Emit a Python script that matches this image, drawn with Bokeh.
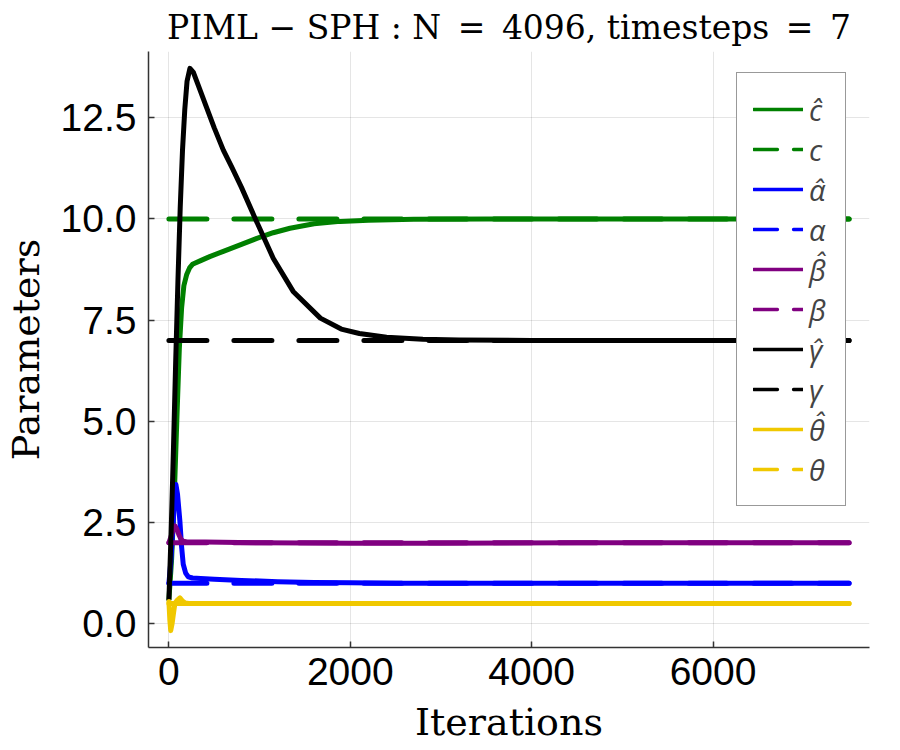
from bokeh.plotting import figure
from bokeh.models import Range1d, FixedTicker, Legend, LegendItem
from bokeh.embed import file_html
from bokeh.resources import INLINE

# ---------------- data ----------------
c_hat_it = [0, 30, 60, 90, 115, 140, 165, 195, 230, 260, 350, 450, 600, 800, 970,
            1150, 1335, 1600, 1890, 2200, 2700, 3500, 5000, 7500]
c_hat_val = [0.6, 1.6, 3.2, 5.2, 6.8, 7.8, 8.35, 8.62, 8.8, 8.88, 8.97, 9.07, 9.2, 9.37, 9.52,
             9.66, 9.77, 9.88, 9.94, 9.97, 9.99, 10.0, 10.0, 10.0]

alpha_hat_it = [0, 20, 40, 60, 77, 95, 121, 140, 158, 185, 213, 260, 350, 500, 800,
                1200, 1600, 2000, 2500, 3500, 7500]
alpha_hat_val = [1.0, 1.5, 2.2, 3.0, 3.44, 3.2, 2.54, 1.9, 1.47, 1.25, 1.16, 1.13, 1.12, 1.1, 1.07,
                 1.04, 1.02, 1.01, 1.0, 1.0, 1.0]

beta_hat_it = [0, 30, 50, 66, 85, 110, 135, 158, 200, 400, 1000, 2000, 3000, 4500, 7500]
beta_hat_val = [2.0, 2.2, 2.36, 2.42, 2.35, 2.2, 2.08, 2.04, 2.02, 2.02, 2.0, 1.99, 1.99, 2.0, 2.0]

gamma_hat_it = [0, 25, 50, 75, 100, 125, 150, 175, 200, 232, 270, 324, 416, 500, 600, 700, 800,
                950, 1150, 1370, 1670, 1900, 2100, 2400, 2800, 3200, 4000, 7500]
gamma_hat_val = [0.6, 2.3, 4.3, 6.5, 8.5, 10.3, 11.7, 12.7, 13.4, 13.72, 13.62, 13.3, 12.75, 12.25,
                 11.7, 11.25, 10.78, 10.02, 9.03, 8.21, 7.55, 7.28, 7.17, 7.08, 7.03, 7.01, 7.0, 7.0]

theta_hat_it = [0, 10, 20, 35, 50, 66, 90, 121, 150, 180, 220, 7500]
theta_hat_val = [0.55, 0.1, -0.17, 0.0, 0.25, 0.5, 0.58, 0.64, 0.56, 0.51, 0.5, 0.5]

true_it = [0, 7500]
c_true = [10.0, 10.0]
alpha_true = [1.0, 1.0]
beta_true = [2.0, 2.0]
gamma_true = [7.0, 7.0]
theta_true = [0.5, 0.5]

legend_labels = ["c\u0302", "c", "\u03b1\u0302", "\u03b1", "\u03b2\u0302", "\u03b2",
                 "\u03b3\u0302", "\u03b3", "\u03b8\u0302", "\u03b8"]
series_colors = ["#008000", "#008000", "#0000ff", "#0000ff", "#800080", "#800080",
                 "#000000", "#000000", "#f0c800", "#f0c800"]

x_ticks = [0, 2000, 4000, 6000]
x_tick_labels = ["0", "2000", "4000", "6000"]
y_ticks = [0.0, 2.5, 5.0, 7.5, 10.0, 12.5]
y_tick_labels = ["0.0", "2.5", "5.0", "7.5", "10.0", "12.5"]

title_text = "PIML \u2212 SPH : N\u2002=\u20024096, timesteps\u2002=\u20027"
x_label_text = "Iterations"
y_label_text = "Parameters"

# ---------------- ranges (3% padding like the source) ----------------
all_x = c_hat_it + alpha_hat_it + beta_hat_it + gamma_hat_it + theta_hat_it + true_it
all_y = c_hat_val + alpha_hat_val + beta_hat_val + gamma_hat_val + theta_hat_val
xmin, xmax = min(all_x), max(all_x)
ymin, ymax = min(all_y), max(all_y)
xp = 0.03 * (xmax - xmin)
yp = 0.03 * (ymax - ymin)

p = figure(width=900, height=750, output_backend="svg", toolbar_location=None,
           x_range=Range1d(xmin - xp, xmax + xp), y_range=Range1d(ymin - yp, ymax + yp),
           min_border_left=148, min_border_right=31, min_border_top=50, min_border_bottom=103)

p.outline_line_color = None
p.background_fill_color = "white"

SERIF = "DejaVu Serif"
p.title.text = title_text
p.title.text_font = SERIF
p.title.text_font_size = "33px"
p.title.text_font_style = "normal"
p.title.text_color = "black"
p.title.align = "center"
p.title.standoff = 10

for ax in (p.xaxis, p.yaxis):
    ax.major_label_text_font = "Liberation Sans"
    ax.major_label_text_font_size = "39px"
    ax.major_label_text_color = "black"
    ax.axis_label_text_font = SERIF
    ax.axis_label_text_font_size = "38px"
    ax.axis_label_text_font_style = "normal"
    ax.axis_label_text_color = "black"
    ax.axis_line_color = "#333333"
    ax.axis_line_width = 1.5
    ax.major_tick_line_color = "#333333"
    ax.major_tick_line_width = 1.5
    ax.major_tick_in = 6
    ax.major_tick_out = 0
    ax.minor_tick_line_color = None

p.xaxis.ticker = FixedTicker(ticks=x_ticks)
p.xaxis.major_label_overrides = {t: l for t, l in zip(x_ticks, x_tick_labels)}
p.yaxis.ticker = FixedTicker(ticks=y_ticks)
p.yaxis.major_label_overrides = {t: l for t, l in zip(y_ticks, y_tick_labels)}
p.xaxis.axis_label = x_label_text
p.yaxis.axis_label = y_label_text
p.xaxis.major_label_standoff = 10
p.yaxis.major_label_standoff = 12
p.xaxis.axis_label_standoff = 12
p.yaxis.axis_label_standoff = 10

p.xgrid.grid_line_color = "black"
p.ygrid.grid_line_color = "black"
p.xgrid.grid_line_alpha = 0.1
p.ygrid.grid_line_alpha = 0.1
p.xgrid.grid_line_width = 1
p.ygrid.grid_line_width = 1

W = 5
DASH = "38 27"
hats = [(c_hat_it, c_hat_val), (alpha_hat_it, alpha_hat_val), (beta_hat_it, beta_hat_val),
        (gamma_hat_it, gamma_hat_val), (theta_hat_it, theta_hat_val)]
trues = [c_true, alpha_true, beta_true, gamma_true, theta_true]

for i in range(5):
    col = series_colors[2 * i]
    hx, hy = hats[i]
    p.line(hx, hy, line_color=col, line_width=W, line_join="round", line_cap="round")
    p.line(true_it, trues[i], line_color=col, line_width=W, line_dash=DASH, line_cap="round")

# legend-only renderers (thinner lines as in the source legend); NaN data -> nothing drawn in plot
nan = float("nan")
items = []
for i, lab in enumerate(legend_labels):
    dash = "solid" if i % 2 == 0 else "24 16"
    r = p.line(x=[nan, nan], y=[nan, nan], line_color=series_colors[i], line_width=3.3,
               line_dash=dash, line_cap="round")
    items.append(LegendItem(label=lab, renderers=[r]))

legend = Legend(items=items, location=(588, 141))
legend.label_text_font = "Open Sans"
legend.label_text_font_style = "italic"
legend.label_text_font_size = "29px"
legend.glyph_width = 50
legend.glyph_height = 20
legend.label_height = 40
legend.spacing = 0
legend.padding = 16
legend.label_standoff = 6
legend.border_line_color = "#333333"
legend.border_line_width = 1
legend.background_fill_color = "white"
legend.background_fill_alpha = 1.0
p.add_layout(legend)

open("out.html", "w").write(file_html(p, INLINE))
